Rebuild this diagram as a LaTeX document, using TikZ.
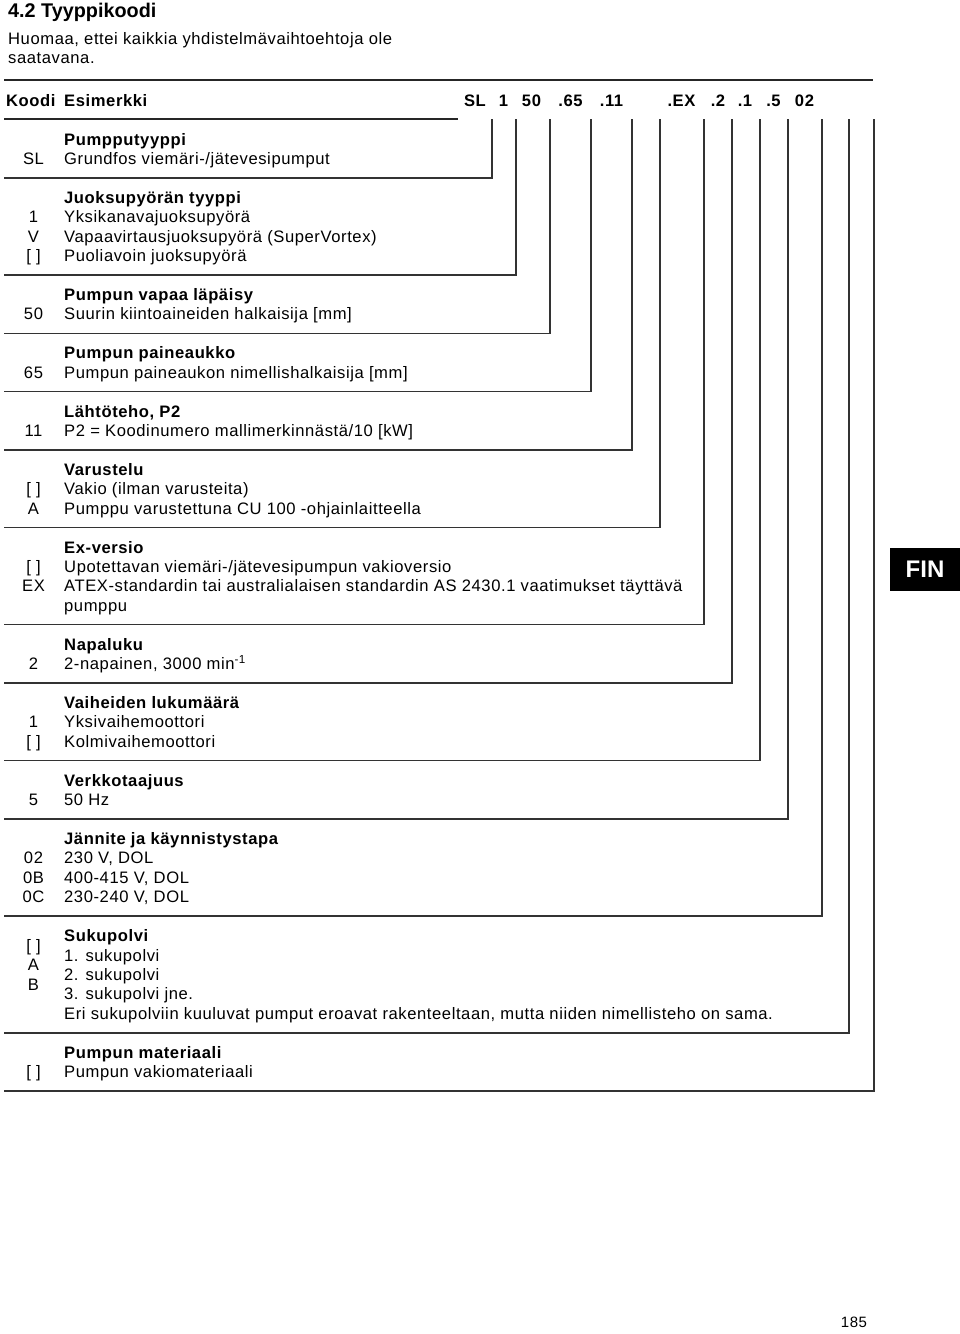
\documentclass[tikz,border=0pt]{standalone}
\usepackage{fontspec}
\setmainfont{Liberation Sans}[LetterSpace=3.5]
\newfontfamily\tagfont{Liberation Sans}
\usetikzlibrary{positioning}
\newcommand{\rowy}[1]{145+19.43*#1}

\begin{document}
\begin{tikzpicture}[
  x=1pt,y=-1pt,
  font=\fontsize{16.6}{19.43}\selectfont,
  txt/.style={anchor=base west,inner sep=0pt},
  head/.style={txt,font=\fontsize{16.6}{19.43}\selectfont\bfseries},
  code/.style={anchor=base,inner sep=0pt},
  excode/.style={code,font=\fontsize{16.6}{19.43}\selectfont\bfseries},
  rule/.style={line width=1.5pt,black!80},
  bar/.style={line width=2.8pt,black!85},
  tag/.style={fill=black,text=white,inner sep=0pt,minimum width=70pt,minimum height=43pt,
    font=\tagfont\fontsize{24}{24}\selectfont\bfseries}]
  \useasboundingbox (0,0) rectangle (960,1334);
  \node[txt,font=\tagfont\fontsize{19.8}{22}\selectfont\bfseries] (title) at (8,17.5) {4.2 Tyyppikoodi};
  \node[txt] (note1) at (8,44) {Huomaa, ettei kaikkia yhdistelmävaihtoehtoja ole};
  \node[txt] (note2) at (8,63.5) {saatavana.};
  \draw[bar] (4,80) -- (873,80);
  \node[head] (koodi) at (6,106) {Koodi};
  \node[head] (esim) at (64,106) {Esimerkki};
  \foreach \x/\c [count=\i] in {475/SL,503.5/1,531.5/50,570.5/.65,611.5/.11,681.5/.EX,718/.2,745/.1,773.5/.5,804.5/02}
    \node[excode] (ex\i) at (\x,106) {\c};
  \draw[line width=2pt,black!85] (4,119) -- (458,119);
  \foreach \k/\t [count=\i] in {0/Pumpputyyppi,3/{Juoksupyörän tyyppi},8/{Pumpun vapaa läpäisy},
      11/{Pumpun paineaukko},14/{Lähtöteho, P2},17/Varustelu,21/Ex-versio,26/Napaluku,
      29/{Vaiheiden lukumäärä},33/Verkkotaajuus,36/{Jännite ja käynnistystapa},41/Sukupolvi,
      47/{Pumpun materiaali}}
    \node[head] (head\i) at (64,{\rowy{\k}}) {\t};
  \foreach \k/\t [count=\i] in {1/{Grundfos viemäri-/jätevesipumput},4/{Yksikanavajuoksupyörä},
      5/{Vapaavirtausjuoksupyörä (SuperVortex)},6/{Puoliavoin juoksupyörä},
      9/{Suurin kiintoaineiden halkaisija [mm]},12/{Pumpun paineaukon nimellishalkaisija [mm]},
      15/{P2 = Koodinumero mallimerkinnästä/10 [kW]},18/{Vakio (ilman varusteita)},
      19/{Pumppu varustettuna CU 100 -ohjainlaitteella},22/{Upotettavan viemäri-/jätevesipumpun vakioversio},
      23/{ATEX-standardin tai australialaisen standardin AS 2430.1 vaatimukset täyttävä},24/{pumppu},
      27/{2-napainen, 3000 min\textsuperscript{-1}},30/{Yksivaihemoottori},31/{Kolmivaihemoottori},
      34/{50 Hz},37/{230 V, DOL},38/{400-415 V, DOL},39/{230-240 V, DOL},
      42/{1. sukupolvi},43/{2. sukupolvi},44/{3. sukupolvi jne.},
      45/{Eri sukupolviin kuuluvat pumput eroavat rakenteeltaan, mutta niiden nimellisteho on sama.},
      48/{Pumpun vakiomateriaali}}
    \node[txt] (desc\i) at (64,{\rowy{\k}}) {\t};
  \foreach \k/\c [count=\i] in {1/SL,4/1,5/V,6/{[ ]},9/50,12/65,15/11,18/{[ ]},19/A,22/{[ ]},23/EX,
      27/2,30/1,31/{[ ]},34/5,37/02,38/0B,39/0C,41.5/{[ ]},42.5/A,43.5/B,48/{[ ]}}
    \node[code] (code\i) at (33.5,{\rowy{\k}}) {\c};
  \foreach \x/\k in {492/1,516/6,550/9,591/12,632/15,660/19,704/24,732/27,760/31,788/34,822/39,849/45,874/48}
    \draw[rule] (\x,119) |- (4,{\rowy{\k}+13.4});
  \node[tag] (fin) at (925,569.5) {FIN};
  \node[code,font=\fontsize{15}{15}\selectfont] (page) at (854,1327) {185};
\end{tikzpicture}
\end{document}
